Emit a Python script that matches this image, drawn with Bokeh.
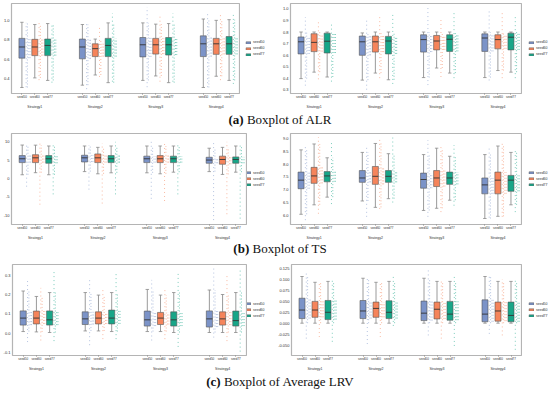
from bokeh.plotting import figure
from bokeh.models import Range1d, ColumnDataSource, Legend, LegendItem, FixedTicker, Div, LinearAxis
from bokeh.layouts import column, row
from bokeh.embed import file_html
from bokeh.resources import INLINE

STRATEGIES = ["Strategy1", "Strategy2", "Strategy3", "Strategy4"]
SEEDS = ["seed50", "seed60", "seed77"]
COLORS = ["#7b93c8", "#f5845b", "#17a688"]

# value order in every list: S1(seed50, seed60, seed77), S2(...), S3(...), S4(...)
# ---- (a) ALR, left panel
ALR1_LOW = [0.307, 0.406, 0.380, 0.331, 0.436, 0.357, 0.380, 0.426, 0.357, 0.307, 0.423, 0.380]
ALR1_Q1 = [0.610, 0.636, 0.636, 0.603, 0.626, 0.626, 0.623, 0.652, 0.642, 0.626, 0.649, 0.649]
ALR1_MED = [0.725, 0.725, 0.741, 0.725, 0.708, 0.741, 0.748, 0.748, 0.748, 0.758, 0.758, 0.758]
ALR1_Q3 = [0.814, 0.804, 0.807, 0.807, 0.758, 0.814, 0.823, 0.814, 0.823, 0.840, 0.814, 0.833]
ALR1_HIGH = [0.980, 0.957, 0.967, 0.957, 0.807, 0.974, 0.974, 0.961, 0.967, 1.014, 1.000, 1.007]
ALR1_PTS_MIN = [0.310, 0.383, 0.357, 0.290, 0.416, 0.367, 0.310, 0.367, 0.367, 0.310, 0.383, 0.344]
ALR1_PTS_MAX = [0.974, 0.990, 0.974, 0.990, 0.925, 1.073, 1.138, 1.040, 1.073, 1.089, 1.073, 1.073]
# ---- (a) ALR, right panel
ALR2_LOW = [0.396, 0.452, 0.410, 0.383, 0.444, 0.386, 0.405, 0.488, 0.444, 0.405, 0.466, 0.452]
ALR2_Q1 = [0.610, 0.630, 0.618, 0.598, 0.626, 0.610, 0.626, 0.645, 0.632, 0.632, 0.654, 0.645]
ALR2_MED = [0.715, 0.710, 0.720, 0.715, 0.715, 0.722, 0.734, 0.722, 0.737, 0.748, 0.734, 0.755]
ALR2_Q3 = [0.757, 0.785, 0.790, 0.765, 0.765, 0.762, 0.776, 0.770, 0.776, 0.784, 0.776, 0.790]
ALR2_HIGH = [0.800, 0.800, 0.800, 0.792, 0.800, 0.800, 0.800, 0.800, 0.800, 0.800, 0.800, 0.800]
ALR2_PTS_MIN = [0.335, 0.390, 0.370, 0.300, 0.400, 0.350, 0.340, 0.410, 0.400, 0.380, 0.400, 0.400]
ALR2_PTS_MAX = [0.930, 0.900, 0.870, 0.900, 0.930, 0.970, 1.030, 0.910, 0.970, 0.990, 0.970, 0.930]
# ---- (b) TS, left panel
TS1_LOW = [1.04, 1.60, 1.04, 1.90, 1.30, 1.57, 1.57, 1.30, 1.74, 1.90, 1.13, 1.74]
TS1_Q1 = [4.35, 4.35, 4.17, 4.52, 4.35, 4.35, 4.35, 4.35, 4.35, 4.17, 3.90, 4.17]
TS1_MED = [5.39, 5.65, 5.39, 5.65, 5.65, 5.39, 5.39, 5.39, 5.39, 5.04, 5.20, 5.20]
TS1_Q3 = [6.26, 6.50, 6.26, 6.35, 6.70, 6.26, 6.10, 6.26, 6.10, 5.80, 6.10, 5.90]
TS1_HIGH = [9.13, 9.10, 8.87, 8.87, 8.50, 8.87, 8.87, 8.87, 8.87, 8.26, 8.50, 8.87]
TS1_PTS_MIN = [-2.2, -7.1, -4.3, -3.0, -6.8, -4.3, -5.5, -6.1, -4.3, -11.3, -9.7, -10.9]
TS1_PTS_MAX = [9.6, 10.0, 9.1, 9.1, 9.6, 10.0, 10.0, 9.6, 9.6, 10.0, 10.0, 9.6]
# ---- (b) TS, right panel
TS2_LOW = [6.04, 6.41, 6.71, 6.56, 6.31, 6.65, 6.19, 6.275, 6.59, 5.875, 5.96, 6.41]
TS2_Q1 = [7.04, 7.25, 7.31, 7.29, 7.21, 7.29, 7.06, 7.125, 7.21, 6.84, 6.84, 6.94]
TS2_MED = [7.375, 7.54, 7.54, 7.46, 7.525, 7.525, 7.40, 7.46, 7.46, 7.19, 7.375, 7.375]
TS2_Q3 = [7.69, 7.875, 7.71, 7.75, 7.91, 7.75, 7.65, 7.75, 7.69, 7.46, 7.69, 7.56]
TS2_HIGH = [8.56, 8.79, 8.25, 8.46, 8.81, 8.41, 8.375, 8.625, 8.31, 8.375, 8.71, 8.46]
TS2_PTS_MIN = [5.81, 6.06, 6.44, 5.94, 6.25, 6.50, 5.94, 6.125, 6.375, 5.91, 5.94, 6.125]
TS2_PTS_MAX = [8.75, 9.06, 8.94, 8.75, 9.00, 9.04, 8.94, 8.75, 8.75, 8.69, 8.84, 8.56]
# ---- (c) Average LRV, left panel
LRV1_LOW = [0.010, 0.008, 0.005, 0.013, 0.013, 0.010, 0.010, 0.010, 0.005, 0.005, 0.005, 0.005]
LRV1_Q1 = [0.043, 0.049, 0.043, 0.046, 0.049, 0.049, 0.038, 0.046, 0.038, 0.033, 0.043, 0.038]
LRV1_MED = [0.079, 0.079, 0.070, 0.075, 0.079, 0.079, 0.070, 0.079, 0.070, 0.075, 0.075, 0.066]
LRV1_Q3 = [0.116, 0.115, 0.116, 0.111, 0.111, 0.120, 0.115, 0.108, 0.111, 0.116, 0.111, 0.115]
LRV1_HIGH = [0.218, 0.190, 0.210, 0.210, 0.197, 0.210, 0.226, 0.197, 0.210, 0.223, 0.200, 0.210]
LRV1_PTS_MIN = [-0.044, -0.036, -0.039, -0.060, -0.029, -0.029, -0.036, -0.029, -0.069, -0.021, -0.039, -0.093]
LRV1_PTS_MAX = [0.275, 0.234, 0.316, 0.275, 0.234, 0.316, 0.275, 0.226, 0.316, 0.333, 0.300, 0.333]
# ---- (c) Average LRV, right panel
LRV2_LOW = [0.0] * 12
LRV2_Q1 = [0.0106, 0.0135, 0.0083, 0.0106, 0.0135, 0.0106, 0.0060, 0.0098, 0.0069, 0.0033, 0.0047, 0.0033]
LRV2_MED = [0.0302, 0.0302, 0.0250, 0.0280, 0.0339, 0.0250, 0.0230, 0.0320, 0.0208, 0.0208, 0.0280, 0.0178]
LRV2_Q3 = [0.0572, 0.0500, 0.0521, 0.0520, 0.0484, 0.0514, 0.0507, 0.0484, 0.0500, 0.0535, 0.0484, 0.0484]
LRV2_HIGH = [0.107, 0.0937, 0.0958, 0.103, 0.0937, 0.0958, 0.103, 0.0958, 0.0958, 0.107, 0.0958, 0.0958]
LRV2_PTS_MIN = [-0.0353, -0.0317, -0.0426, -0.0477, -0.0317, -0.0062, -0.028, -0.0353, -0.0521, -0.0244, -0.028, -0.0609]
LRV2_PTS_MAX = [0.114, 0.0958, 0.103, 0.107, 0.0937, 0.110, 0.125, 0.0995, 0.107, 0.110, 0.101, 0.0995]

# y axis ticks / labels
ALR1_TICKS = [0.4, 0.6, 0.8, 1.0]
ALR1_LABELS = ["0.4", "0.6", "0.8", "1.0"]
ALR2_TICKS = [0.3, 0.4, 0.5, 0.6, 0.7, 0.8, 0.9, 1.0]
ALR2_LABELS = ["0.3", "0.4", "0.5", "0.6", "0.7", "0.8", "0.9", "1.0"]
TS1_TICKS = [-10, -5, 0, 5, 10]
TS1_LABELS = ["-10", "-5", "0", "5", "10"]
TS2_TICKS = [6.0, 6.5, 7.0, 7.5, 8.0, 8.5, 9.0]
TS2_LABELS = ["6.0", "6.5", "7.0", "7.5", "8.0", "8.5", "9.0"]
LRV1_TICKS = [-0.1, 0.0, 0.1, 0.2, 0.3]
LRV1_LABELS = ["-0.1", "0.0", "0.1", "0.2", "0.3"]
LRV2_TICKS = [-0.05, -0.025, 0.0, 0.025, 0.05, 0.075, 0.1, 0.125]
LRV2_LABELS = ["-0.050", "-0.025", "0.000", "0.025", "0.050", "0.075", "0.100", "0.125"]

FONT = "Liberation Sans"
GROUP_STEP = 61      # horizontal layout units between strategy groups
SEED_STEP = 13       # between seeds inside a group
X_RANGE = (-23.5, 206.5)
BOX_HALF = 3.0
CAP_HALF = 1.7
# dotted strands that stand in for the jittered point cloud (x offsets from box centre)
STRAND_FULL = [4.3]          # whole point range
STRAND_WHISK = [5.6]         # whisker range
STRAND_BOX = [6.9, 8.2]      # box (IQR)
BOTTOM = 14


def panel(stats, yr, ticks, labels, b_left, frame_w, frame_h, b_top):
    lo, q1, med, q3, hi, pmin, pmax = stats
    p = figure(x_range=Range1d(*X_RANGE), y_range=Range1d(*yr),
               width=b_left + frame_w + 1, height=b_top + frame_h + BOTTOM,
               output_backend="svg", toolbar_location=None,
               min_border_left=b_left, min_border_right=1,
               min_border_top=b_top, min_border_bottom=BOTTOM)
    p.outline_line_color = "#b4b4b4"
    p.outline_line_width = 1.2
    p.xgrid.grid_line_color = None
    p.ygrid.grid_line_color = None
    p.background_fill_color = "white"
    p.border_fill_color = "white"

    seed_pos, seed_lab = [], []
    for j, (seed, col) in enumerate(zip(SEEDS, COLORS)):
        idx = [g * 3 + j for g in range(4)]
        xs = [g * GROUP_STEP + (j - 1) * SEED_STEP for g in range(4)]
        seed_pos += xs
        seed_lab += [seed] * 4
        src = ColumnDataSource(dict(
            x=xs, xl=[x - BOX_HALF for x in xs], xr=[x + BOX_HALF for x in xs],
            cl=[x - CAP_HALF for x in xs], cr=[x + CAP_HALF for x in xs],
            lo=[lo[k] for k in idx], q1=[q1[k] for k in idx],
            med=[med[k] for k in idx], q3=[q3[k] for k in idx], hi=[hi[k] for k in idx],
            pmin=[pmin[k] for k in idx], pmax=[pmax[k] for k in idx]))
        for off_list, y0, y1, dash in ((STRAND_FULL, "pmin", "pmax", "1 3"),
                                       (STRAND_WHISK, "lo", "hi", "1 2"),
                                       (STRAND_BOX, "q1", "q3", "1 2")):
            for off in off_list:
                cs = ColumnDataSource(dict(x=[x + off for x in xs], y0=list(src.data[y0]),
                                           y1=list(src.data[y1])))
                p.segment(x0="x", y0="y0", x1="x", y1="y1", source=cs, line_color=col,
                          line_alpha=0.7, line_width=0.8, line_dash=dash)
        p.segment(x0="x", y0="hi", x1="x", y1="q3", source=src, line_color="#9a9a9a", line_width=1.0)
        p.segment(x0="x", y0="q1", x1="x", y1="lo", source=src, line_color="#9a9a9a", line_width=1.0)
        p.segment(x0="cl", y0="hi", x1="cr", y1="hi", source=src, line_color="#8a8a8a", line_width=0.8)
        p.segment(x0="cl", y0="lo", x1="cr", y1="lo", source=src, line_color="#8a8a8a", line_width=0.8)
        p.quad(left="xl", right="xr", bottom="q1", top="q3", source=src,
               fill_color=col, line_color="#555555", line_width=0.6)
        p.segment(x0="xl", y0="med", x1="xr", y1="med", source=src, line_color="#333333", line_width=0.9)

    ax = p.xaxis[0]
    ax.ticker = FixedTicker(ticks=seed_pos)
    ax.major_label_overrides = {t: l for t, l in zip(seed_pos, seed_lab)}
    ax.axis_line_color = None
    ax.minor_tick_line_color = None
    ax.minor_tick_out = 0
    ax.minor_tick_in = 0
    ax.major_tick_line_color = "#888888"
    ax.major_tick_out = 1
    ax.major_tick_in = 0
    ax.major_label_text_font = FONT
    ax.major_label_text_font_size = "3px"
    ax.major_label_text_color = "#333333"
    ax.major_label_standoff = 1

    gpos = [g * GROUP_STEP for g in range(4)]
    ax2 = LinearAxis(ticker=FixedTicker(ticks=gpos),
                     major_label_overrides={t: s for t, s in zip(gpos, STRATEGIES)})
    ax2.axis_line_color = None
    ax2.major_tick_line_color = None
    ax2.minor_tick_line_color = None
    ax2.major_tick_out = 0
    ax2.major_tick_in = 0
    ax2.minor_tick_out = 0
    ax2.minor_tick_in = 0
    ax2.major_label_standoff = 3
    ax2.major_label_text_font = FONT
    ax2.major_label_text_font_size = "3.5px"
    ax2.major_label_text_color = "#333333"
    p.add_layout(ax2, "below")

    ay = p.yaxis[0]
    ay.ticker = FixedTicker(ticks=ticks)
    ay.major_label_overrides = {t: l for t, l in zip(ticks, labels)}
    ay.axis_line_color = None
    ay.major_tick_line_color = None
    ay.minor_tick_line_color = None
    ay.major_tick_out = 0
    ay.major_tick_in = 0
    ay.minor_tick_out = 0
    ay.minor_tick_in = 0
    ay.major_label_standoff = 2
    ay.major_label_text_font = FONT
    ay.major_label_text_font_size = "4px"
    ay.major_label_text_color = "#333333"
    return p


def legend_box(width, main, margin):
    q = figure(width=width, height=main.height, output_backend="svg", toolbar_location=None,
               x_axis_location=None, y_axis_location=None,
               min_border_left=0, min_border_right=0,
               min_border_top=main.min_border_top, min_border_bottom=BOTTOM,
               x_range=Range1d(0, 1), y_range=Range1d(0, 1))
    q.outline_line_color = None
    q.xgrid.grid_line_color = None
    q.ygrid.grid_line_color = None
    items = []
    for seed, col in zip(SEEDS, COLORS):
        # placeholder glyph kept outside the visible range; it only supplies the legend swatch
        r = q.quad(left=[5], right=[6], bottom=[5], top=[6], fill_color=col,
                   line_color="#555555", line_width=0.5)
        items.append(LegendItem(label=seed, renderers=[r]))
    q.add_layout(Legend(items=items, location="center_left", orientation="vertical",
                        label_text_font=FONT, label_text_font_size="3.5px",
                        label_text_color="#333333", glyph_width=6, glyph_height=3,
                        label_height=3, label_standoff=2, spacing=2, padding=0, margin=margin,
                        border_line_color=None, background_fill_alpha=0))
    return q


def caption(letter, text, height, left):
    return Div(text=f"<b>({letter})</b> {text}", width=550 - 2 * left + 10, height=height,
               margin=(0, 0, 0, left),
               styles={"font-family": "Liberation Serif", "font-size": "13px",
                       "text-align": "center", "line-height": f"{height}px",
                       "color": "#111111"})


a1 = panel((ALR1_LOW, ALR1_Q1, ALR1_MED, ALR1_Q3, ALR1_HIGH, ALR1_PTS_MIN, ALR1_PTS_MAX),
           (0.245, 1.174), ALR1_TICKS, ALR1_LABELS, 10, 229, 94, 3)
a2 = panel((ALR2_LOW, ALR2_Q1, ALR2_MED, ALR2_Q3, ALR2_HIGH, ALR2_PTS_MIN, ALR2_PTS_MAX),
           (0.267, 1.047), ALR2_TICKS, ALR2_LABELS, 15, 231, 94, 3)
b1 = panel((TS1_LOW, TS1_Q1, TS1_MED, TS1_Q3, TS1_HIGH, TS1_PTS_MIN, TS1_PTS_MAX),
           (-12.5, 12.27), TS1_TICKS, TS1_LABELS, 10, 236, 95, 4)
b2 = panel((TS2_LOW, TS2_Q1, TS2_MED, TS2_Q3, TS2_HIGH, TS2_PTS_MIN, TS2_PTS_MAX),
           (5.64, 9.2), TS2_TICKS, TS2_LABELS, 15, 231, 95, 4)
c1 = panel((LRV1_LOW, LRV1_Q1, LRV1_MED, LRV1_Q3, LRV1_HIGH, LRV1_PTS_MIN, LRV1_PTS_MAX),
           (-0.113, 0.354), LRV1_TICKS, LRV1_LABELS, 10, 236, 95, 8)
c2 = panel((LRV2_LOW, LRV2_Q1, LRV2_MED, LRV2_Q3, LRV2_HIGH, LRV2_PTS_MIN, LRV2_PTS_MAX),
           (-0.074, 0.1345), LRV2_TICKS, LRV2_LABELS, 15, 231, 95, 8)


def full_row(left, right):
    lw = 275 - left.width
    rw = 550 - 275 - right.width
    return row(left, legend_box(lw, left, 245 - left.width),
               right, legend_box(rw, right, 6))


layout = column(full_row(a1, a2), caption("a", "Boxplot of ALR", 18, 10),
                full_row(b1, b2), caption("b", "Boxplot of TS", 14, 14),
                full_row(c1, c2), caption("c", "Boxplot of Average LRV", 17, 14))

open("out.html", "w").write(file_html(layout, INLINE))
